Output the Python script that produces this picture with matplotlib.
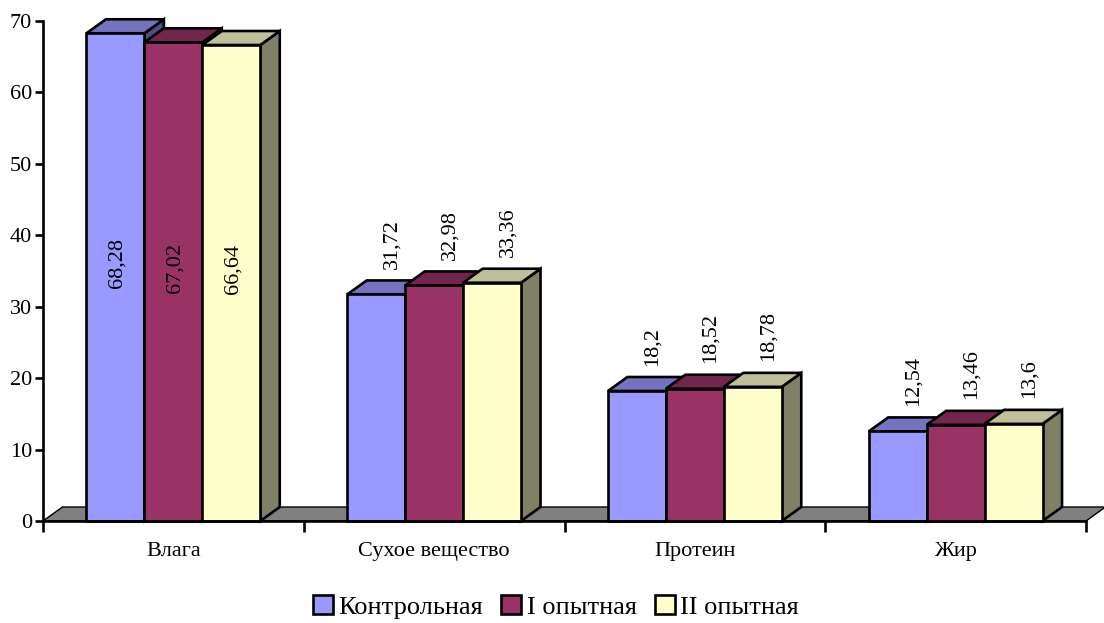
import matplotlib
matplotlib.use('Agg')
import numpy as np
from matplotlib import pyplot as plt
from matplotlib.patches import Polygon, Patch

plt.rcParams['font.family'] = ['Liberation Serif', 'DejaVu Serif']

categories = ['Влага', 'Сухое вещество', 'Протеин', 'Жир']
series = ['Контрольная', 'I опытная', 'II опытная']
control = [68.28, 31.72, 18.2, 12.54]
exp1 = [67.02, 32.98, 18.52, 13.46]
exp2 = [66.64, 33.36, 18.78, 13.6]
labels_ctrl = ['68,28', '31,72', '18,2', '12,54']
labels_exp1 = ['67,02', '32,98', '18,52', '13,46']
labels_exp2 = ['66,64', '33,36', '18,78', '13,6']

values = [control, exp1, exp2]
labels = [labels_ctrl, labels_exp1, labels_exp2]
colors = ['#9999FF', '#993366', '#FFFFCC']

def shade(c, k):
    r, g, b = matplotlib.colors.to_rgb(c)
    return (r*k, g*k, b*k)

fig = plt.figure(figsize=(11.04, 6.23), dpi=100)
ax = fig.add_axes([43/1104, 102/623, (1086-43)/1104, 500/623])
ax.set_xlim(0, 4)
ax.set_ylim(0, 70)

w = 2/9
dx = 0.0747   # depth in x units
dy = 1.96     # depth in y units
lw = 1.9

# floor
floor = Polygon([(0, 0), (dx, dy), (4 + dx, dy), (4, 0)], closed=True,
                facecolor='#808080', edgecolor='black', lw=1.0, zorder=1, clip_on=False)
ax.add_patch(floor)

z = 2
for i in range(len(categories)):
    for j in range(3):
        v = values[j][i]
        x0 = i + 0.5 + (j - 1.5) * w
        x1 = x0 + w
        c = colors[j]
        front = Polygon([(x0, 0), (x0, v), (x1, v), (x1, 0)], closed=True,
                        facecolor=c, edgecolor='black', lw=lw, zorder=z, clip_on=False)
        top = Polygon([(x0, v), (x0 + dx, v + dy), (x1 + dx, v + dy), (x1, v)], closed=True,
                      facecolor=shade(c, 0.75), edgecolor='black', lw=lw, zorder=z, clip_on=False)
        side = Polygon([(x1, 0), (x1, v), (x1 + dx, v + dy), (x1 + dx, dy)], closed=True,
                       facecolor=shade(c, 0.5), edgecolor='black', lw=lw, zorder=z, clip_on=False)
        ax.add_patch(side)
        ax.add_patch(top)
        ax.add_patch(front)
        z += 1
        if i == 0:
            ax.text(x0 + w/2 + 0.005, v/2 + dy, labels[j][i], rotation=90, ha='center', va='center',
                    fontsize=16, zorder=100)
        else:
            ax.text(x0 + w/2 + 0.06, v + dy + 1.6, labels[j][i], rotation=90, ha='center', va='bottom',
                    fontsize=16, zorder=100)

for s in ['top', 'right']:
    ax.spines[s].set_visible(False)
ax.spines['left'].set_linewidth(1.9)
ax.spines['bottom'].set_linewidth(1.9)
ax.spines['bottom'].set_zorder(50)

ax.set_yticks(np.arange(0, 71, 10))
ax.set_xticks(np.arange(0, 5))
ax.set_xticklabels([])
ax.set_xticks(np.arange(len(categories)) + 0.5, minor=True)
ax.set_xticklabels(categories, minor=True)
ax.tick_params(axis='x', which='major', direction='out', length=8, width=1.9)
ax.tick_params(axis='x', which='minor', length=0, pad=15, labelsize=16)
ax.tick_params(axis='y', direction='out', length=6, width=1.9, labelsize=16, pad=2)

handles = [Patch(facecolor=colors[k], edgecolor='black', lw=1.9, label=series[k]) for k in range(3)]
fig.legend(handles=handles, loc='center', bbox_to_anchor=(556/1104, 1 - 607/623), ncol=3,
           frameon=False, fontsize=19, handlelength=0.75, handleheight=0.75,
           handletextpad=0.2, columnspacing=0.7)

fig.savefig('out.png', dpi=100)
